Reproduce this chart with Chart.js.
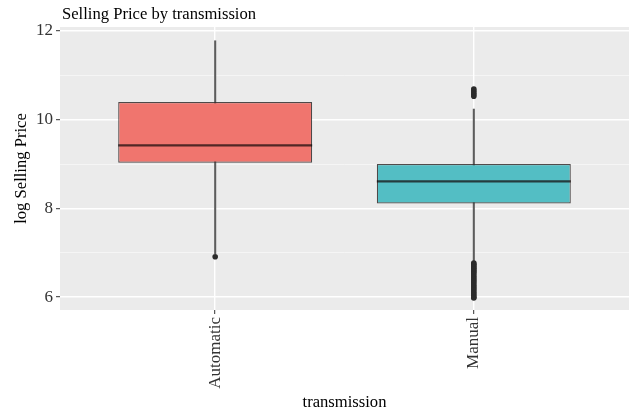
<!DOCTYPE html>
<html>
<head>
<meta charset="utf-8">
<script src="https://cdn.jsdelivr.net/npm/chart.js@4/dist/chart.umd.min.js"></script>
<style>
  html, body { margin: 0; padding: 0; background: #ffffff; }
  #wrap { width: 633px; height: 416px; }
</style>
</head>
<body>
<div id="wrap"><canvas id="c" width="633" height="416"></canvas></div>
<script>
// ---- data ----
const categories = ['Automatic', 'Manual'];
const lowerWhisker = [6.98, 6.80];
const q1 = [9.03, 8.11];
const median = [9.42, 8.61];
const q3 = [10.40, 9.00];
const upperWhisker = [11.78, 10.24];
const outliersAutomatic = [6.91];
const outliersManual = [10.69, 10.65, 10.61, 10.57, 10.53,
  6.77, 6.74, 6.71, 6.68, 6.65, 6.62, 6.59, 6.56, 6.52, 6.48, 6.44, 6.40,
  6.36, 6.32, 6.28, 6.24, 6.20, 6.16, 6.12, 6.08, 6.04, 6.00, 5.98];
const yTickValues = [6, 7, 8, 9, 10, 11, 12];
const yLabelledTicks = [6, 8, 10, 12];
const boxColors = ['#F0756E', '#53BEC4'];
const titleText = 'Selling Price by transmission';
const xTitle = 'transmission';
const yTitle = 'log Selling Price';

// ---- derived datasets ----
const xIdx = categories.map((c, i) => i);
const whiskerData = xIdx.map(i => ({ x: i, y: [lowerWhisker[i], upperWhisker[i]] }));
const boxData = xIdx.map(i => ({ x: i, y: [q1[i], q3[i]] }));
const outlierData = [
  ...outliersAutomatic.map(v => ({ x: 0, y: v })),
  ...outliersManual.map(v => ({ x: 1, y: v }))
];

const FONT = 'Liberation Serif';

const panelBg = {
  id: 'panelBg',
  beforeDraw(chart) {
    const { ctx, chartArea: a } = chart;
    ctx.save();
    ctx.fillStyle = '#EBEBEB';
    ctx.fillRect(a.left, a.top, a.right - a.left, a.bottom - a.top);
    ctx.restore();
  }
};

const medianLines = {
  id: 'medianLines',
  afterDatasetDraw(chart, args) {
    if (args.index !== 1) return;
    const { ctx } = chart;
    const yScale = chart.scales.y;
    const meta = chart.getDatasetMeta(1);
    ctx.save();
    ctx.strokeStyle = 'rgba(20,10,10,0.72)';
    ctx.lineWidth = 2.2;
    meta.data.forEach((el, i) => {
      const p = el.getProps(['x', 'width'], true);
      const y = yScale.getPixelForValue(median[i]);
      ctx.beginPath();
      ctx.moveTo(p.x - p.width / 2, y);
      ctx.lineTo(p.x + p.width / 2, y);
      ctx.stroke();
    });
    ctx.restore();
  }
};

const plotTitle = {
  id: 'plotTitle',
  afterDraw(chart) {
    const { ctx, chartArea: a } = chart;
    ctx.save();
    ctx.font = '16.6px "' + FONT + '"';
    ctx.fillStyle = '#000';
    ctx.textBaseline = 'alphabetic';
    ctx.textAlign = 'left';
    ctx.fillText(titleText, a.left + 2, 19);
    ctx.restore();
  }
};

new Chart(document.getElementById('c'), {
  type: 'bar',
  data: {
    datasets: [
      {
        type: 'scatter',
        data: outlierData,
        order: 0,
        pointRadius: 2.8,
        pointBackgroundColor: '#2b2b2b',
        pointBorderColor: '#2b2b2b',
        pointBorderWidth: 0
      },
      {
        type: 'bar',
        data: boxData,
        order: 1,
        grouped: false,
        backgroundColor: boxColors,
        borderColor: 'rgba(50,45,45,0.85)',
        borderWidth: 1.2,
        borderSkipped: false,
        categoryPercentage: 1,
        barPercentage: 0.75
      },
      {
        type: 'bar',
        data: whiskerData,
        order: 2,
        grouped: false,
        backgroundColor: '#5c5c5c',
        borderWidth: 0,
        barThickness: 1.4
      }
    ]
  },
  options: {
    responsive: false,
    animation: false,
    devicePixelRatio: 1,
    layout: { padding: { top: 27, right: 2, left: 0, bottom: 0 } },
    plugins: {
      legend: { display: false },
      tooltip: { enabled: false },
      title: { display: false }
    },
    scales: {
      x: {
        type: 'linear',
        min: -0.6,
        max: 1.6,
        offset: false,
        afterBuildTicks(scale) { scale.ticks = xIdx.map(v => ({ value: v })); },
        afterFit(scale) { scale.height = 106; },
        border: { display: false },
        grid: {
          offset: false,
          color: '#ffffff',
          lineWidth: 1.4,
          drawTicks: true,
          tickLength: 4,
          tickColor: '#333333',
          tickWidth: 1
        },
        ticks: {
          callback: (v) => categories[v] !== undefined ? categories[v] : '',
          minRotation: 90,
          maxRotation: 90,
          autoSkip: false,
          padding: 3,
          color: '#333333',
          font: { family: FONT, size: 17 }
        },
        title: {
          display: true,
          text: xTitle,
          color: '#000000',
          font: { family: FONT, size: 16.6 },
          padding: { top: 0, bottom: 3 }
        }
      },
      y: {
        type: 'linear',
        min: 5.71,
        max: 12.09,
        afterBuildTicks(scale) { scale.ticks = yTickValues.map(v => ({ value: v })); },
        afterFit(scale) { scale.width = 60; },
        border: { display: false },
        grid: {
          color: (ctx) => yLabelledTicks.includes(ctx.tick && ctx.tick.value) ? '#ffffff' : 'rgba(255,255,255,0.7)',
          lineWidth: (ctx) => yLabelledTicks.includes(ctx.tick && ctx.tick.value) ? 1.4 : 0.7,
          drawTicks: true,
          tickLength: 4,
          tickColor: (ctx) => yLabelledTicks.includes(ctx.tick && ctx.tick.value) ? '#333333' : 'rgba(0,0,0,0)',
          tickWidth: 1
        },
        ticks: {
          callback: (v) => yLabelledTicks.includes(v) ? String(v) : '',
          padding: 3,
          color: '#333333',
          font: { family: FONT, size: 17 }
        },
        title: {
          display: true,
          text: yTitle,
          color: '#000000',
          font: { family: FONT, size: 16.6 },
          padding: { top: 11.5, bottom: 0 }
        }
      }
    }
  },
  plugins: [panelBg, medianLines, plotTitle]
});
</script>
</body>
</html>
